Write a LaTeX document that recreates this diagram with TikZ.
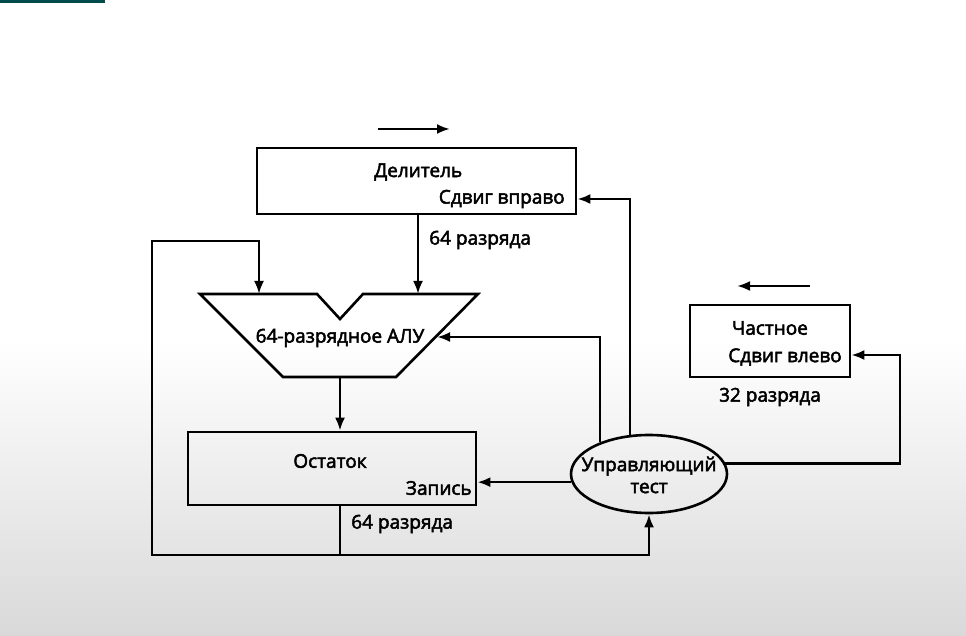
\documentclass[tikz,border=0pt]{standalone}
\usepackage{fontspec}
\setmainfont[FakeBold=2.6]{Open Sans}
\usetikzlibrary{arrows.meta,shapes.geometric,positioning}

\begin{document}
\begin{tikzpicture}[x=1pt, y=-1pt, line width=2.6pt,
    every node/.style={font=\fontsize{19}{22}\selectfont, inner sep=0pt},
    box/.style={draw, rectangle},
    test/.style={draw, ellipse, minimum width=156pt, minimum height=78pt},
    arr/.style={-{Latex[length=13pt,width=10pt]}}]
    % background of the screenshot
    \useasboundingbox (0,0) rectangle (966,636);
    \fill[white] (0,0) rectangle (966,636);
    \shade[top color=white, bottom color=gray!30, line width=0pt] (0,340) rectangle (966,636);
    \fill[teal!60!black] (0,0) rectangle (105,3);
    % divisor
    \node[box, minimum width=319pt, minimum height=66pt] (div) at (416.5,181) {};
    \node[anchor=west] (divname) at (373,172) {Делитель};
    \node[anchor=east] (divshift) at (566,199) {Сдвиг вправо};
    \node[anchor=west] (divbits) at (428,240) {64 разряда};
    \coordinate (divdir1) at (378,129);
    \coordinate (divdir2) at (450,129);
    % ALU
    \coordinate (a1) at (200,294);
    \coordinate (a2) at (317,294);
    \coordinate (a3) at (340,319);
    \coordinate (a4) at (363,294);
    \coordinate (a5) at (478,294);
    \coordinate (a6) at (396,377);
    \coordinate (a7) at (283,377);
    \draw[line join=miter] (a1) -- (a2) -- (a3) -- (a4) -- (a5) -- (a6) -- (a7) -- cycle;
    \node (alu) at (340,338) {64-разрядное АЛУ};
    \coordinate (aluin) at (437,337);
    \coordinate (aluout) at (340,377);
    \coordinate (aluleft) at (259,294);
    % remainder
    \node[box, minimum width=288pt, minimum height=73pt] (rem) at (332,468.5) {};
    \node (remname) at (330,461) {Остаток};
    \node[anchor=east] (remwrite) at (473,488) {Запись};
    \node[anchor=west] (rembits) at (350,524) {64 разряда};
    \coordinate (bus) at (340,555);
    \coordinate (loop) at (152,241);
    % control
    \node[test] (ctrl) at (649,474) {};
    \node[align=center] (ctrltext) at (649,475) {Управляющий\\тест};
    % quotient
    \node[box, minimum width=160pt, minimum height=72pt] (quot) at (770,341) {};
    \node (quotname) at (770,328) {Частное};
    \node[anchor=east] (quotshift) at (843,357) {Сдвиг влево};
    \node (quotbits) at (770,397) {32 разряда};
    \coordinate (quotdir1) at (810,286);
    \coordinate (quotdir2) at (737,286);
    \coordinate (qturn) at (900,355);
    % connections
    \draw[arr] (divdir1) -- (divdir2);
    \draw[arr] (quotdir1) -- (quotdir2);
    \draw[arr] (div.south -| 418,0) -- (418,294);
    \draw[arr] (aluout) -- (aluout |- rem.north);
    \draw (aluout |- rem.south) -- (bus);
    \draw[arr] (bus) -| (loop) -| (aluleft);
    \draw[arr] (bus) -| (ctrl.south);
    \draw[arr] (ctrl.186) -- (ctrl.186 -| rem.east);
    \draw[arr] (ctrl.147) |- (aluin);
    \draw[arr] (ctrl.116) |- (divshift -| div.east);
    \draw[arr] (ctrl.8) -| (qturn) -- (qturn -| quot.east);
\end{tikzpicture}
\end{document}
